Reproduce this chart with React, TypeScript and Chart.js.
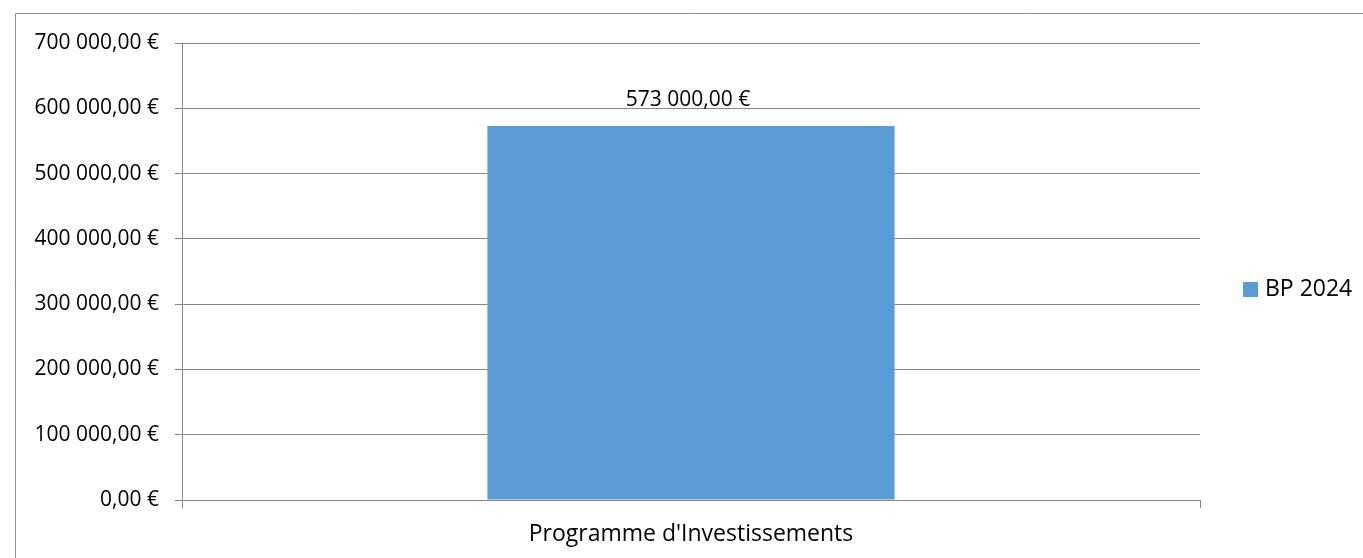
import React, { useEffect, useRef } from "react";
import { Chart, registerables } from "chart.js";

Chart.register(...registerables);

const categories: string[] = ["Programme d'Investissements"];
const seriesLabel = "BP 2024";
const values: number[] = [573000];
const yMax = 700000;
const yStep = 100000;

const FONT = "'Open Sans', 'Noto Sans', sans-serif";
const GRID = "#868686";
const BAR = "#5B9BD5";

function fmtEuro(v: number): string {
  const fixed = Math.abs(v).toFixed(2);
  const [intPart, dec] = fixed.split(".");
  const grouped = intPart.replace(/\B(?=(\d{3})+(?!\d))/g, " ");
  return (v < 0 ? "-" : "") + grouped + "," + dec + " €";
}

const framePlugin = {
  id: "frame",
  beforeDraw(chart: any) {
    const ctx = chart.ctx;
    ctx.save();
    ctx.strokeStyle = "#8c8c8c";
    ctx.lineWidth = 1;
    ctx.beginPath();
    ctx.moveTo(15.5, chart.height);
    ctx.lineTo(15.5, 13.5);
    ctx.lineTo(chart.width, 13.5);
    ctx.stroke();
    ctx.restore();
  },
};

const dataLabelPlugin = {
  id: "dataLabels",
  afterDatasetsDraw(chart: any) {
    const ctx = chart.ctx;
    ctx.save();
    ctx.font = `21px ${FONT}`;
    ctx.fillStyle = "#000";
    ctx.textAlign = "center";
    ctx.textBaseline = "alphabetic";
    chart.data.datasets.forEach((ds: any, di: number) => {
      const meta = chart.getDatasetMeta(di);
      meta.data.forEach((el: any, i: number) => {
        ctx.fillText(fmtEuro(ds.data[i]), el.x - 3, el.y - 20);
      });
    });
    ctx.restore();
  },
};

const legendPlugin = {
  id: "customLegend",
  afterDraw(chart: any) {
    const ctx = chart.ctx;
    const area = chart.chartArea;
    const cy = (area.top + area.bottom) / 2 + 18;
    ctx.save();
    chart.data.datasets.forEach((ds: any) => {
      const x = area.right + 43;
      ctx.fillStyle = ds.backgroundColor;
      ctx.fillRect(x, cy - 7.5, 15, 15);
      ctx.fillStyle = "#000";
      ctx.font = `23px ${FONT}`;
      ctx.textAlign = "left";
      ctx.textBaseline = "middle";
      ctx.fillText(ds.label, x + 22, cy);
    });
    ctx.restore();
  },
};

export default function App() {
  const canvasRef = useRef<HTMLCanvasElement | null>(null);

  useEffect(() => {
    if (!canvasRef.current) return;
    const chart = new Chart(canvasRef.current, {
      type: "bar",
      data: {
        labels: categories,
        datasets: [
          {
            label: seriesLabel,
            data: values,
            backgroundColor: BAR,
            borderWidth: 0,
            barPercentage: 0.4,
            categoryPercentage: 1.0,
          },
        ],
      },
      options: {
        animation: false,
        responsive: true,
        maintainAspectRatio: false,
        layout: { padding: { left: 0, top: 43, right: 163, bottom: 0 } },
        plugins: {
          legend: { display: false },
          tooltip: { enabled: false },
        },
        scales: {
          x: {
            offset: true,
            grid: {
              offset: true,
              drawOnChartArea: false,
              drawTicks: true,
              tickLength: 8,
              color: GRID,
            },
            border: { color: GRID, width: 1 },
            ticks: {
              color: "#000",
              font: { family: FONT, size: 23 },
              padding: 13,
              maxRotation: 0,
            },
            afterFit(scale: any) {
              scale.height = 58;
            },
          },
          y: {
            min: 0,
            max: yMax,
            grid: {
              color: GRID,
              lineWidth: 1,
              drawTicks: true,
              tickLength: 7,
            },
            border: { color: GRID, width: 1 },
            ticks: {
              stepSize: yStep,
              color: "#000",
              font: { family: FONT, size: 21 },
              padding: 16,
              callback: (v: any) => fmtEuro(Number(v)),
            },
            afterFit(scale: any) {
              scale.width = 182;
            },
          },
        },
      },
      plugins: [framePlugin, dataLabelPlugin, legendPlugin],
    });
    return () => chart.destroy();
  }, []);

  return (
    <div style={{ position: "fixed", left: 0, top: 0, width: 1363, height: 558, background: "#fff" }}>
      <canvas ref={canvasRef} />
    </div>
  );
}
